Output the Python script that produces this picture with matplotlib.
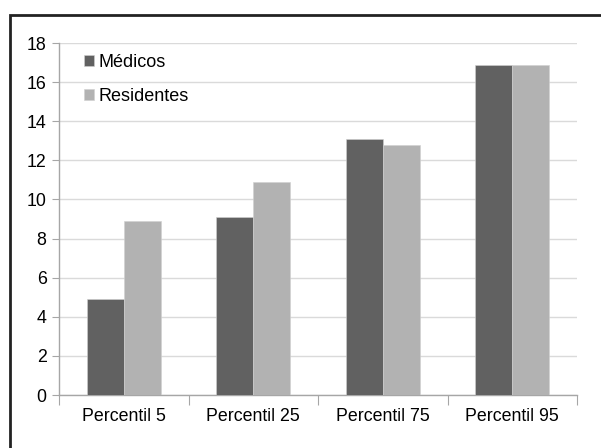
import matplotlib.pyplot as plt
import numpy as np
from matplotlib.patches import Rectangle

categories = ["Percentil 5", "Percentil 25", "Percentil 75", "Percentil 95"]
medicos = [4.9, 9.1, 13.1, 16.9]
residentes = [8.9, 10.9, 12.8, 16.9]
yticks = [0, 2, 4, 6, 8, 10, 12, 14, 16, 18]

plt.rcParams["font.family"] = ["Liberation Sans", "DejaVu Sans"]

fig = plt.figure(figsize=(6.01, 4.48), dpi=100)
W, H = 601, 448
# plot area in pixel coords: x 59..577, y 43..395
ax = fig.add_axes([59 / W, 1 - 395 / H, (577 - 59) / W, (395 - 43) / H])

x = np.arange(len(categories))
bw = 0.286
ax.bar(x - bw / 2, medicos, bw, color="#616161", edgecolor="#d0d0d0", lw=0.4,
       label="Médicos", zorder=3)
ax.bar(x + bw / 2, residentes, bw, color="#b2b2b2", edgecolor="#d0d0d0", lw=0.4,
       label="Residentes", zorder=3)

ax.set_xlim(-0.5, len(categories) - 0.5)
ax.set_ylim(0, 18)
ax.set_yticks(yticks)
ax.yaxis.grid(True, color="#dadada", lw=1, zorder=0)
ax.set_axisbelow(True)

for s in ["top", "right"]:
    ax.spines[s].set_visible(False)
for s in ["left", "bottom"]:
    ax.spines[s].set_color("#a6a6a6")
    ax.spines[s].set_linewidth(1)

# category ticks sit on the boundaries
ax.set_xticks(np.arange(-0.5, len(categories)), minor=False)
ax.set_xticklabels([])
ax.set_xticks(x, minor=True)
ax.set_xticklabels(categories, minor=True)
ax.tick_params(axis="x", which="major", length=7, color="#a6a6a6")
ax.tick_params(axis="x", which="minor", length=0, pad=9, labelsize=12.8)
ax.tick_params(axis="y", length=5, color="#a6a6a6", pad=4, labelsize=12.8)

leg = ax.legend(loc="upper left", bbox_to_anchor=(80 / W, 1 - 50 / H),
                bbox_transform=fig.transFigure, frameon=False,
                fontsize=13, handlelength=0.6, handleheight=0.6,
                handletextpad=0.2, labelspacing=0.95, borderaxespad=0,
                borderpad=0.2)

# outer frame of the chart, cut off at right and bottom
fig.patches.append(Rectangle((10 / W, -0.1), 1.2, 1 - 15 / H + 0.1,
                             transform=fig.transFigure, fill=False,
                             ec="#222222", lw=2))

fig.savefig("out.png", dpi=100)
